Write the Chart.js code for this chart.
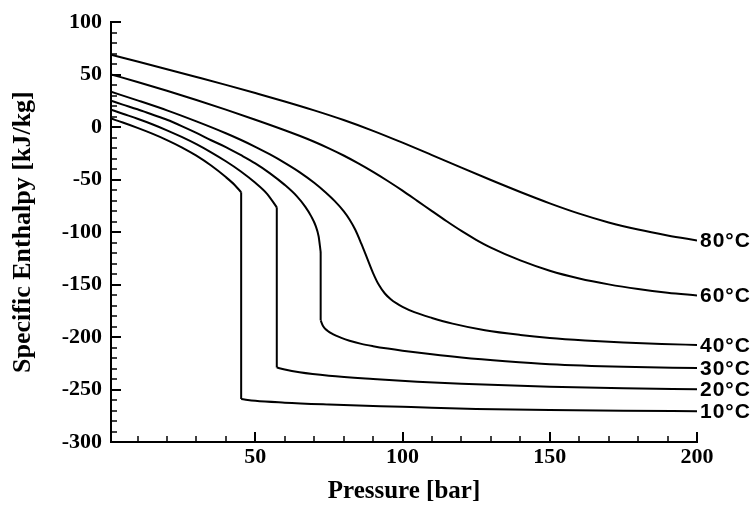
<!DOCTYPE html>
<html>
<head>
<meta charset="utf-8">
<script src="https://cdn.jsdelivr.net/npm/chart.js@4/dist/chart.umd.min.js"></script>
<style>
html,body{margin:0;padding:0;background:#fff;}
#wrap{width:753px;height:507px;position:relative;}
</style>
</head>
<body>
<div id="wrap"><canvas id="c" width="753" height="507"></canvas></div>
<script>
// ---- data (pressure in bar, specific enthalpy in kJ/kg) ----
// a repeated pressure value marks the vertical (phase change) drop
const isothermLabels = ['10°C', '20°C', '30°C', '40°C', '60°C', '80°C'];

const p10 = [1, 5, 10, 15, 20, 25, 30, 35, 40, 43, 45.2, 45.2, 50, 60, 75, 100, 110, 125, 150, 175, 200];
const h10 = [8.2, 4.4, -0.7, -6.2, -12.3, -19.2, -27.2, -36.6, -47.6, -55.1, -62, -259, -260.8, -262.5, -264.2, -266.5, -267.4, -268.5, -269.6, -270.3, -270.7];

const p20 = [1, 5, 10, 15, 20, 25, 30, 35, 40, 45, 50, 54, 57.3, 57.3, 60, 65, 75, 90, 105, 120, 150, 175, 200];
const h20 = [16.7, 12.8, 8, 2.8, -3, -9.3, -16.2, -24, -32.5, -42, -53, -63.5, -76.4, -229, -231, -233.6, -236.9, -240, -242.5, -244.5, -247.3, -248.8, -249.8];

const p30 = [1, 5, 10, 15, 20, 25, 30, 35, 40, 45, 50, 55, 60, 64, 67, 69, 70.5, 71.5, 72.2, 72.2, 73, 74.5, 76.5, 79, 82, 86, 90, 95, 100, 110, 120, 135, 150, 175, 200];
const h30 = [25.2, 21.5, 17, 12, 7, 1, -5.5, -12.5, -19, -26.5, -34.5, -44, -55, -65.5, -76, -85, -94, -104, -119, -184, -189.5, -194, -197.5, -200.5, -203.5, -206.5, -208.7, -211, -213, -216.5, -219.5, -223, -225.8, -228.3, -229.5];

const p40 = [1, 10, 20, 30, 40, 45, 50, 55, 60, 65, 70, 74, 77, 80, 82, 84, 86, 88, 90, 92, 94, 96, 98, 100, 104, 110, 117, 128, 140, 150, 162, 175, 188, 200];
const h40 = [33.7, 25.5, 16, 5.5, -5.8, -12, -18.7, -26, -34, -42.8, -53, -62.5, -70.5, -80, -88, -98, -111, -125, -139, -150.5, -158.5, -164, -168, -171.2, -176.3, -181.8, -187.2, -193.5, -198, -200.8, -203.2, -205.2, -206.6, -207.5];

const p60 = [1, 10, 20, 30, 40, 50, 60, 65, 70, 75, 80, 85, 90, 95, 100, 105, 110, 115, 120, 125, 130, 140, 150, 160, 170, 180, 190, 200];
const h60 = [50.3, 43.1, 34.7, 25.9, 16.7, 7.1, -2.9, -8.2, -13.9, -20.2, -27, -34.5, -42.6, -51.3, -60.5, -70.2, -80, -89.7, -98.9, -107.3, -114.8, -127, -136.8, -144.2, -149.8, -154.2, -157.7, -160.4];

const p80 = [1, 10, 20, 30, 40, 50, 60, 70, 80, 90, 100, 110, 120, 130, 140, 150, 160, 170, 180, 190, 200];
const h80 = [69, 62.5, 55.2, 47.8, 40.3, 32.5, 24.5, 16, 6.8, -3.5, -14.8, -26.6, -38.6, -50.4, -61.8, -72.6, -82.4, -90.8, -97.6, -103.2, -108];

const xTickLabels = [50, 100, 150, 200];
const yTickLabels = [-300, -250, -200, -150, -100, -50, 0, 50, 100];

// ---- build datasets: each isotherm split into smooth pieces at its vertical drop ----
const series = [[p10, h10], [p20, h20], [p30, h30], [p40, h40], [p60, h60], [p80, h80]];
const datasets = [];
series.forEach((s, k) => {
  const px = s[0], hy = s[1];
  const ranges = [];
  let start = 0;
  for (let i = 1; i < px.length; i++) {
    if (px[i] === px[i - 1]) {
      ranges.push([start, i - 1]);
      ranges.push([i - 1, i]);
      start = i;
    }
  }
  ranges.push([start, px.length - 1]);
  ranges.forEach((r, j) => {
    const pts = [];
    for (let i = r[0]; i <= r[1]; i++) pts.push({x: px[i], y: hy[i]});
    datasets.push({
      label: isothermLabels[k],
      endLabel: j === ranges.length - 1 ? isothermLabels[k] : null,
      data: pts,
      borderColor: '#000',
      borderWidth: 2,
      pointRadius: 0,
      cubicInterpolationMode: 'monotone',
      borderCapStyle: 'butt',
      borderJoinStyle: 'miter',
      fill: false
    });
  });
});

const serifBold = (size) => ({family: '"Liberation Serif", "Times New Roman", serif', weight: 'bold', size: size});

// inward tick marks drawn from the scales' own ticks
const innerTicks = {
  id: 'innerTicks',
  afterDraw(chart) {
    const ctx = chart.ctx;
    const a = chart.chartArea;
    const xs = chart.scales.x, ys = chart.scales.y;
    ctx.save();
    ctx.strokeStyle = '#000';
    xs.ticks.forEach(t => {
      if (Math.abs(t.value % 10) > 1e-9) return;
      const major = t.value % 50 === 0;
      const px = Math.round(xs.getPixelForValue(t.value));
      ctx.lineWidth = major ? 2 : 1.5;
      ctx.beginPath();
      ctx.moveTo(px, a.bottom);
      ctx.lineTo(px, a.bottom - (major ? 10 : 6));
      ctx.stroke();
    });
    ys.ticks.forEach(t => {
      if (Math.abs(t.value % 10) > 1e-9) return;
      const major = t.value % 50 === 0;
      const py = Math.round(ys.getPixelForValue(t.value));
      ctx.lineWidth = major ? 2 : 1.5;
      ctx.beginPath();
      ctx.moveTo(a.left, py);
      ctx.lineTo(a.left + (major ? 10 : 6), py);
      ctx.stroke();
    });
    ctx.restore();
  }
};

// end-of-line isotherm labels
const endLabels = {
  id: 'endLabels',
  afterDatasetsDraw(chart) {
    const ctx = chart.ctx;
    const xs = chart.scales.x, ys = chart.scales.y;
    ctx.save();
    ctx.fillStyle = '#000';
    ctx.font = 'bold 21px "Liberation Sans", Arial, sans-serif';
    if ('letterSpacing' in ctx) ctx.letterSpacing = '1px';
    ctx.textAlign = 'left';
    ctx.textBaseline = 'middle';
    chart.data.datasets.forEach(ds => {
      if (!ds.endLabel) return;
      const last = ds.data[ds.data.length - 1];
      ctx.fillText(ds.endLabel, xs.getPixelForValue(last.x) + 3, ys.getPixelForValue(last.y) + 1);
    });
    ctx.restore();
  }
};

new Chart(document.getElementById('c'), {
  type: 'line',
  data: {datasets},
  options: {
    responsive: false,
    devicePixelRatio: 1,
    animation: false,
    layout: {padding: {top: 18, right: 56, bottom: 0, left: 0}},
    plugins: {legend: {display: false}, tooltip: {enabled: false}},
    scales: {
      x: {
        type: 'linear',
        min: 1, max: 200,
        grid: {display: false, drawTicks: false},
        border: {display: true, color: '#000', width: 2},
        ticks: {
          stepSize: 10, autoSkip: false, maxRotation: 0, color: '#000', padding: 2,
          font: serifBold(22),
          callback: v => xTickLabels.includes(v) ? String(v) : ''
        },
        title: {display: true, text: 'Pressure [bar]', color: '#000', font: serifBold(25), padding: {top: 0, bottom: 0}},
        afterFit: s => { s.height = 65; }
      },
      y: {
        type: 'linear',
        min: -300, max: 100,
        grid: {display: false, drawTicks: false},
        border: {display: true, color: '#000', width: 2},
        ticks: {
          stepSize: 10, autoSkip: false, color: '#000', padding: 9,
          font: serifBold(22),
          callback: v => yTickLabels.includes(v) ? String(v) : ''
        },
        title: {display: true, text: 'Specific Enthalpy [kJ/kg]', color: '#000', font: serifBold(26), padding: {top: 8, bottom: 0}},
        afterFit: s => { s.width = 111; }
      }
    }
  },
  plugins: [innerTicks, endLabels]
});
</script>
</body>
</html>
